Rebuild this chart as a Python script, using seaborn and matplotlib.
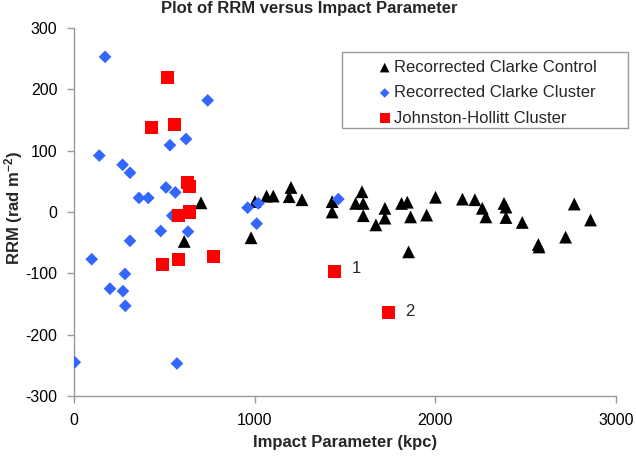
import matplotlib
matplotlib.use("Agg")
from matplotlib import pyplot as plt
from matplotlib.patches import Rectangle
import pandas as pd
import seaborn as sns

# Recorrected Clarke Control (impact parameter kpc, RRM rad m^-2)
control_x = [610, 703, 980, 1002, 1066, 1103, 1191, 1201, 1262, 1429, 1429, 1559, 1594, 1601, 1601,
             1671, 1721, 1721, 1813, 1845, 1852, 1863, 1952, 2001, 2150, 2219, 2260, 2280, 2380, 2391,
             2391, 2481, 2570, 2574, 2721, 2769, 2859]
control_y = [-48, 15, -42, 17, 26, 26, 25, 40, 20, 17, 0, 14, 33, 14, -6,
             -21, 6, -10, 14, 16, -65, -8, -5, 24, 21, 20, 6, -8, 14, 8,
             -9, -17, -53, -57, -41, 13, -13]

# Recorrected Clarke Cluster
cluster_x = [172, 740, 531, 620, 140, 269, 310, 509, 561, 360, 411, 961, 1020, 1011, 1463,
             544, 480, 631, 310, 98, 282, 199, 271, 284, 4, 570]
cluster_y = [253, 182, 109, 119, 92, 77, 64, 40, 32, 23, 23, 7, 14, -19, 21,
             -6, -31, -32, -47, -77, -101, -125, -129, -153, -245, -247]

# Johnston-Hollitt Cluster
jh_x = [518, 428, 557, 629, 638, 581, 638, 491, 579, 771, 1444, 1743]
jh_y = [220, 138, 143, 48, 41, -5, 0, -86, -77, -73, -97, -164]

point_labels = ["1", "2"]
point_label_x = [1539, 1832]
point_label_y = [-92, -163]

sns.set_theme(style="white")
plt.rcParams["font.family"] = ["Liberation Sans", "DejaVu Sans"]
plt.rcParams["mathtext.default"] = "regular"
plt.rcParams["axes.unicode_minus"] = False

fig = plt.figure(figsize=(6.36, 4.59), dpi=100)
ax = fig.add_axes([74 / 636, 1 - 396 / 459, 542 / 636, 368 / 459])

sns.scatterplot(x=control_x, y=control_y, marker="^", s=85, color="black", edgecolor="none",
                label="Recorrected Clarke Control", ax=ax, zorder=3)
sns.scatterplot(x=cluster_x, y=cluster_y, marker="D", s=42, color="#3366FF", edgecolor="none",
                label="Recorrected Clarke Cluster", ax=ax, zorder=4)
sns.scatterplot(x=jh_x, y=jh_y, marker="s", s=88, color="#FF0000", edgecolor="none",
                label="Johnston-Hollitt Cluster", ax=ax, zorder=5)

for text, tx, ty in zip(point_labels, point_label_x, point_label_y):
    ax.text(tx, ty, text, fontsize=12, ha="left", va="center")

ax.set_xlim(0, 3000)
ax.set_ylim(-300, 300)
ax.set_xticks(range(0, 3001, 1000))
ax.set_yticks(range(-300, 301, 100))
ax.tick_params(axis="both", labelsize=11.5, colors="#999999", labelcolor="black",
               length=5, width=1, direction="out", left=True, bottom=True)
ax.tick_params(axis="y", pad=7)
ax.tick_params(axis="x", pad=7)
for side in ["top", "right"]:
    ax.spines[side].set_visible(False)
for side in ["left", "bottom"]:
    ax.spines[side].set_color("#999999")
    ax.spines[side].set_linewidth(1)

ax.set_xlabel("Impact Parameter (kpc)", fontsize=12, fontweight="bold")
ax.set_ylabel("RRM (rad m$^{-2}$)", fontsize=12, fontweight="bold")
ax.xaxis.set_label_coords(0.5, -0.106)
ax.yaxis.set_label_coords(-0.09, 0.51)

fig.text(309 / 636, 1 - 13.5 / 459, "Plot of RRM versus Impact Parameter", fontsize=12,
         fontweight="bold", ha="center", va="baseline")

leg = ax.legend(loc="upper left", bbox_to_anchor=(378 / 636, 1 - 60 / 459),
                bbox_transform=fig.transFigure, frameon=False, fontsize=12,
                markerscale=0.75, handlelength=0.8, handletextpad=0.15,
                labelspacing=0.62, borderpad=0, borderaxespad=0)
fig.add_artist(Rectangle((342 / 636, 1 - 128 / 459), 286 / 636, 76 / 459,
                         transform=fig.transFigure, fill=False, edgecolor="#999999", lw=1))

plt.savefig("out.png", dpi=100)
